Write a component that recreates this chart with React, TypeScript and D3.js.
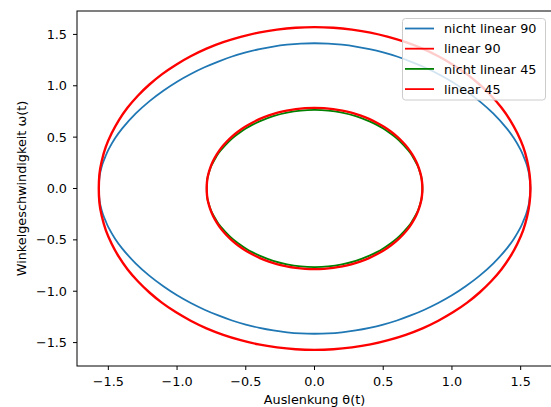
import React from "react";
import * as d3 from "d3";

// Upper half of each phase curve [theta, omega], theta from +A to -A
const nichtLinear90: [number, number][] = [
  [1.571, 0], [1.566, 0.09], [1.56, 0.147], [1.55, 0.205], [1.54, 0.248], [1.52, 0.316],
  [1.5, 0.376], [1.45, 0.491], [1.4, 0.583], [1.3, 0.731], [1.2, 0.851], [1.1, 0.952],
  [1.0, 1.04], [0.9, 1.115], [0.8, 1.18], [0.7, 1.236], [0.6, 1.285], [0.5, 1.325],
  [0.4, 1.357], [0.3, 1.382], [0.2, 1.4], [0.1, 1.411], [0, 1.414],
  [-0.1, 1.411], [-0.2, 1.4], [-0.3, 1.382], [-0.4, 1.357], [-0.5, 1.325], [-0.6, 1.285],
  [-0.7, 1.236], [-0.8, 1.18], [-0.9, 1.115], [-1.0, 1.04], [-1.1, 0.952], [-1.2, 0.851],
  [-1.3, 0.731], [-1.4, 0.583], [-1.45, 0.491], [-1.5, 0.376], [-1.52, 0.316],
  [-1.54, 0.248], [-1.55, 0.205], [-1.56, 0.147], [-1.566, 0.09],
];
const linear90: [number, number][] = [
  [1.571, 0], [1.565, 0.137], [1.547, 0.273], [1.518, 0.407], [1.476, 0.537], [1.424, 0.664],
  [1.361, 0.786], [1.287, 0.901], [1.203, 1.01], [1.111, 1.111], [1.01, 1.203], [0.901, 1.287],
  [0.786, 1.361], [0.664, 1.424], [0.537, 1.476], [0.407, 1.518], [0.273, 1.547], [0.137, 1.565],
  [0, 1.571], [-0.137, 1.565], [-0.273, 1.547], [-0.407, 1.518], [-0.537, 1.476], [-0.664, 1.424],
  [-0.786, 1.361], [-0.901, 1.287], [-1.01, 1.203], [-1.111, 1.111], [-1.203, 1.01], [-1.287, 0.901],
  [-1.361, 0.786], [-1.424, 0.664], [-1.476, 0.537], [-1.518, 0.407], [-1.547, 0.273], [-1.565, 0.137],
];
const nichtLinear45: [number, number][] = [
  [0.785, 0], [0.782, 0.068], [0.777, 0.114], [0.77, 0.145], [0.76, 0.188], [0.75, 0.222],
  [0.725, 0.285], [0.7, 0.34], [0.65, 0.419], [0.6, 0.486], [0.55, 0.538], [0.5, 0.584],
  [0.45, 0.622], [0.4, 0.654], [0.3, 0.705], [0.2, 0.739], [0.1, 0.759], [0, 0.765],
  [-0.1, 0.759], [-0.2, 0.739], [-0.3, 0.705], [-0.4, 0.654], [-0.45, 0.622], [-0.5, 0.584],
  [-0.55, 0.538], [-0.6, 0.486], [-0.65, 0.419], [-0.7, 0.34], [-0.725, 0.285], [-0.75, 0.222],
  [-0.76, 0.188], [-0.77, 0.145], [-0.777, 0.114], [-0.782, 0.068],
];
const linear45: [number, number][] = [
  [0.785, 0], [0.782, 0.068], [0.773, 0.136], [0.758, 0.203], [0.738, 0.268], [0.711, 0.332],
  [0.68, 0.393], [0.643, 0.45], [0.601, 0.505], [0.555, 0.555], [0.505, 0.601], [0.45, 0.643],
  [0.393, 0.68], [0.332, 0.711], [0.268, 0.738], [0.203, 0.758], [0.136, 0.773], [0.068, 0.782],
  [0, 0.785], [-0.068, 0.782], [-0.136, 0.773], [-0.203, 0.758], [-0.268, 0.738], [-0.332, 0.711],
  [-0.393, 0.68], [-0.45, 0.643], [-0.505, 0.601], [-0.555, 0.555], [-0.601, 0.505], [-0.643, 0.45],
  [-0.68, 0.393], [-0.711, 0.332], [-0.738, 0.268], [-0.758, 0.203], [-0.773, 0.136], [-0.782, 0.068],
];

const seriesNames = ["nicht linear 90", "linear 90", "nicht linear 45", "linear 45"];
const seriesColors = ["#1f77b4", "#ff0000", "#008000", "#ff0000"];
const seriesData = [nichtLinear90, linear90, nichtLinear45, linear45];
const xTicks = [-1.5, -1.0, -0.5, 0.0, 0.5, 1.0, 1.5];
const yTicks = [-1.5, -1.0, -0.5, 0.0, 0.5, 1.0, 1.5];

const W = 551, H = 407;
const FONT = "DejaVu Sans, sans-serif";
const FS = 12.8;

const closeLoop = (half: [number, number][]): [number, number][] => {
  const lower = half
    .filter((p) => p[1] !== 0)
    .map((p) => [p[0], -p[1]] as [number, number])
    .reverse();
  return [...half, ...lower];
};

const fmt = (v: number) => v.toFixed(1).replace("-", "\u2212");

export default function App() {
  const x = d3.scaleLinear().domain([-1.728, 1.728]).range([77, 552]);
  const y = d3.scaleLinear().domain([-1.728, 1.728]).range([366, 11]);
  const line = d3
    .line<[number, number]>()
    .x((d) => x(d[0]))
    .y((d) => y(d[1]))
    .curve(d3.curveCatmullRomClosed.alpha(0.5));

  const widths = [1.8, 2.4, 1.8, 2.4];

  return (
    <svg
      width={W}
      height={H}
      style={{ position: "absolute", left: 0, top: 0, background: "#fff" }}
      fontFamily={FONT}
    >
      <rect x={0} y={0} width={W} height={H} fill="#fff" />
      <defs>
        <clipPath id="plotclip">
          <rect x={77} y={11} width={475} height={355} />
        </clipPath>
      </defs>
      <g clipPath="url(#plotclip)">
        {seriesData.map((d, i) => (
          <path
            key={i}
            d={line(closeLoop(d)) || ""}
            fill="none"
            stroke={seriesColors[i]}
            strokeWidth={widths[i]}
            strokeLinejoin="round"
          />
        ))}
      </g>
      {/* spines */}
      <rect x={77} y={11} width={475} height={355} fill="none" stroke="#000" strokeWidth={1} />
      {/* x ticks */}
      {xTicks.map((t) => (
        <g key={"x" + t}>
          <line x1={x(t)} x2={x(t)} y1={366} y2={370} stroke="#000" strokeWidth={1} />
          <text x={x(t)} y={386} textAnchor="middle" fontSize={FS} fill="#000">
            {fmt(t)}
          </text>
        </g>
      ))}
      {yTicks.map((t) => (
        <g key={"y" + t}>
          <line x1={73} x2={77} y1={y(t)} y2={y(t)} stroke="#000" strokeWidth={1} />
          <text x={67} y={y(t) + 4.6} textAnchor="end" fontSize={FS} fill="#000">
            {fmt(t)}
          </text>
        </g>
      ))}
      <text x={x(0)} y={404} textAnchor="middle" fontSize={FS} fill="#000">
        Auslenkung θ(t)
      </text>
      <text
        transform={`translate(26,${y(0)}) rotate(-90)`}
        textAnchor="middle"
        fontSize={FS}
        fill="#000"
      >
        Winkelgeschwindigkeit ω(t)
      </text>
      {/* legend */}
      <g>
        <rect x={402.5} y={18.5} width={143} height={81.5} rx={3} fill="#fff" fillOpacity={0.8} stroke="#cccccc" strokeWidth={1} />
        {seriesNames.map((n, i) => {
          const ly = 28.5 + i * 20.2;
          return (
            <g key={n}>
              <line x1={405} x2={434} y1={ly} y2={ly} stroke={seriesColors[i]} strokeWidth={1.8} />
              <text x={444} y={ly + 4.6} fontSize={FS} fill="#000">
                {n}
              </text>
            </g>
          );
        })}
      </g>
    </svg>
  );
}
